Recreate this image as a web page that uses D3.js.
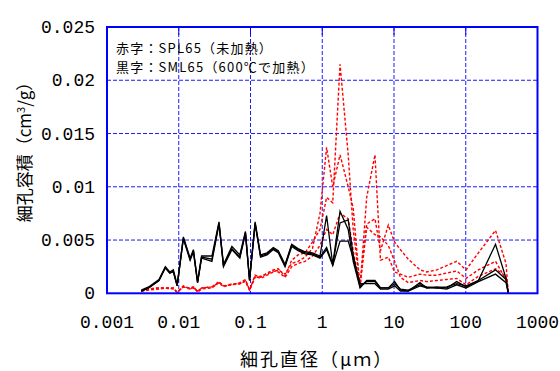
<!DOCTYPE html>
<html><head><meta charset="utf-8">
<script src="https://cdn.jsdelivr.net/npm/d3@7"></script>
<style>body{margin:0;background:#fff}svg{display:block}</style>
</head><body>
<svg id="c" width="560" height="371"></svg>
<script>
const diameters = [0.003,0.0038,0.0053,0.0065,0.0075,0.0084,0.0095,0.0116,0.0144,0.016,0.0183,0.0208,0.029,0.0364,0.042,0.055,0.071,0.085,0.097,0.116,0.138,0.17,0.208,0.244,0.303,0.375,0.46,0.575,0.73,0.93,1.15,1.4,1.77,2.3,2.7,3.36,4.16,5.43,6.48,8.33,10.2,12.3,15.8,23,28.6,39.4,54.3,74.8,101,150,260,364,392];

const redA = [0.0002,0.0004,0.0005,0.0005,0.0005,0.0005,0.0001,0.0007,0.0004,0.0006,0.0002,0.0005,0.0006,0.0011,0.0007,0.0008,0.0010,0.0013,0.0003,0.0017,0.0015,0.0019,0.0022,0.0023,0.0016,0.0031,0.0036,0.0038,0.0048,0.0060,0.0090,0.0085,0.0215,0.0130,0.0060,0.0008,0.0065,0.0070,0.0040,0.0064,0.0048,0.0041,0.0032,0.0022,0.0020,0.0022,0.0026,0.0030,0.0022,0.0038,0.0059,0.0028,0];
const redB = [0.0002,0.0004,0.0005,0.0005,0.0004,0.0005,0.0001,0.0006,0.0005,0.0006,0.0001,0.0004,0.0005,0.0010,0.0006,0.0009,0.0009,0.0012,0.0003,0.0016,0.0014,0.0017,0.0020,0.0022,0.0018,0.0028,0.0030,0.0034,0.0042,0.0075,0.0137,0.0100,0.0130,0.0100,0.0080,0.0005,0.0090,0.0130,0.0031,0.0034,0.0020,0.0018,0.0015,0.0018,0.0017,0.0017,0.0019,0.0021,0.0014,0.0022,0.0030,0.0013,0];
const redC = [0.0002,0.0003,0.0004,0.0005,0.0005,0.0004,0.0001,0.0006,0.0004,0.0005,0.0002,0.0005,0.0006,0.0010,0.0007,0.0008,0.0009,0.0011,0.0003,0.0015,0.0016,0.0018,0.0021,0.0020,0.0015,0.0025,0.0028,0.0030,0.0035,0.0045,0.0060,0.0055,0.0075,0.0070,0.0040,0.0006,0.0062,0.0055,0.0053,0.0045,0.0030,0.0015,0.0010,0.0012,0.0011,0.0012,0.0013,0.0014,0.0008,0.0016,0.0023,0.0016,0];

const blackA = [0.0003,0.0006,0.0013,0.0025,0.0020,0.0022,0.0008,0.0053,0.0033,0.0041,0.0011,0.0035,0.0035,0.0067,0.0027,0.0044,0.0036,0.0058,0.0013,0.0067,0.0036,0.0038,0.0043,0.0040,0.0027,0.0046,0.0042,0.0039,0.0038,0.0035,0.0073,0.0027,0.0077,0.0060,0.0030,0.0005,0.0012,0.0012,0.0005,0.0005,0.0011,0.0003,0.0002,0.0010,0.0005,0.0006,0.0005,0.0011,0.0006,0.0012,0.0046,0.0014,0];
const blackB = [0.0002,0.0005,0.0012,0.0024,0.0019,0.0021,0.0007,0.0052,0.0032,0.0040,0.0010,0.0034,0.0032,0.0066,0.0026,0.0042,0.0034,0.0057,0.0012,0.0066,0.0035,0.0037,0.0042,0.0039,0.0026,0.0045,0.0041,0.0038,0.0037,0.0034,0.0043,0.0027,0.0066,0.0069,0.0036,0.0007,0.0011,0.0011,0.0005,0.0005,0.0009,0.0004,0.0003,0.0008,0.0006,0.0005,0.0006,0.0009,0.0007,0.0012,0.0022,0.0013,0];
const blackC = [0.0002,0.0005,0.0012,0.0024,0.0019,0.0020,0.0007,0.0051,0.0031,0.0039,0.0010,0.0033,0.0030,0.0065,0.0025,0.0041,0.0033,0.0056,0.0012,0.0065,0.0034,0.0036,0.0041,0.0038,0.0025,0.0044,0.0040,0.0037,0.0036,0.0033,0.0041,0.0026,0.0049,0.0049,0.0033,0.0009,0.0009,0.0009,0.0004,0.0004,0.0007,0.0002,0.0002,0.0007,0.0005,0.0005,0.0004,0.0008,0.0005,0.0011,0.0018,0.0010,0];

const xTicks = [0.001,0.01,0.1,1,10,100,1000];
const xTickLabels = ["0.001","0.01","0.1","1","10","100","1000"];
const yTicks = [0,0.005,0.01,0.015,0.02,0.025];
const yTickLabels = ["0","0.005","0.01","0.015","0.02","0.025"];
const legendLines = ["赤字：SPL65（未加熱）","黒字：SML65（600℃で加熱）"];

const svg = d3.select("#c");
const L=107, R=537.5, T=27, B=293.3;
const x = d3.scaleLog().domain([0.001,1000]).range([L,R]);
const y = d3.scaleLinear().domain([0,0.025]).range([B,T]);
const blue="#0000ff";
const numFont="'Liberation Mono','DejaVu Sans Mono',monospace";
const jpFont="'Noto Sans CJK JP','Noto Sans CJK SC',sans-serif";

// grid
const grid = svg.append("g");
grid.selectAll("line.v").data(xTicks.slice(1,-1)).join("line")
  .attr("x1",d=>x(d)).attr("x2",d=>x(d)).attr("y1",T).attr("y2",B)
  .attr("stroke","#1a1aff").attr("stroke-width",1).attr("stroke-dasharray","4,2");
grid.selectAll("line.h").data(yTicks.slice(1,-1)).join("line")
  .attr("x1",L).attr("x2",R).attr("y1",d=>y(d)).attr("y2",d=>y(d))
  .attr("stroke","#1a1aff").attr("stroke-width",1).attr("stroke-dasharray","4,2");
// top ticks
grid.selectAll("line.t").data(xTicks.slice(1,-1)).join("line")
  .attr("x1",d=>x(d)).attr("x2",d=>x(d)).attr("y1",T).attr("y2",T+8)
  .attr("stroke",blue).attr("stroke-width",1);

// series
const line = d3.line().x((d,i)=>x(diameters[i])).y(d=>y(d));
const reds=[redA,redB,redC], blacks=[blackA,blackB,blackC];
svg.append("g").selectAll("path").data(reds).join("path")
  .attr("d",line).attr("fill","none").attr("stroke","#ff0000")
  .attr("stroke-width",1.4).attr("stroke-dasharray","3,2");
svg.append("g").selectAll("path").data(blacks).join("path")
  .attr("d",line).attr("fill","none").attr("stroke","#000")
  .attr("stroke-width",1.3);

// border
svg.append("rect").attr("x",L).attr("y",T).attr("width",R-L).attr("height",B-T)
  .attr("fill","none").attr("stroke",blue).attr("stroke-width",2);

// axis labels
svg.append("g").selectAll("text").data(xTicks).join("text")
  .attr("x",d=>x(d)).attr("y",328).attr("text-anchor","middle")
  .attr("font-family",numFont).attr("font-size",18).attr("fill","#000")
  .text((d,i)=>xTickLabels[i]);
svg.append("g").selectAll("text").data(yTicks).join("text")
  .attr("x",95).attr("y",d=>y(d)+6).attr("text-anchor","end")
  .attr("font-family",numFont).attr("font-size",18).attr("fill","#000")
  .text((d,i)=>yTickLabels[i]);

// titles
svg.append("text").attr("x",240).attr("y",366)
  .attr("font-family",jpFont).attr("font-size",18).attr("letter-spacing",2).attr("fill","#000")
  .text("細孔直径（μｍ）");
const yt = svg.append("text").attr("transform","translate(31,148) rotate(-90)")
  .attr("text-anchor","middle").attr("font-family",jpFont).attr("font-size",17).attr("fill","#000");
yt.append("tspan").text("細孔容積（cm");
yt.append("tspan").attr("font-size",11).attr("dy",-6).text("3");
yt.append("tspan").attr("dy",6).text("/g）");

// legend text
svg.append("g").selectAll("text").data(legendLines).join("text")
  .attr("x",116).attr("y",(d,i)=>53+i*19)
  .attr("font-family",jpFont).attr("font-size",13).attr("letter-spacing",1.2).attr("fill","#000")
  .text(d=>d);
</script>
</body></html>
